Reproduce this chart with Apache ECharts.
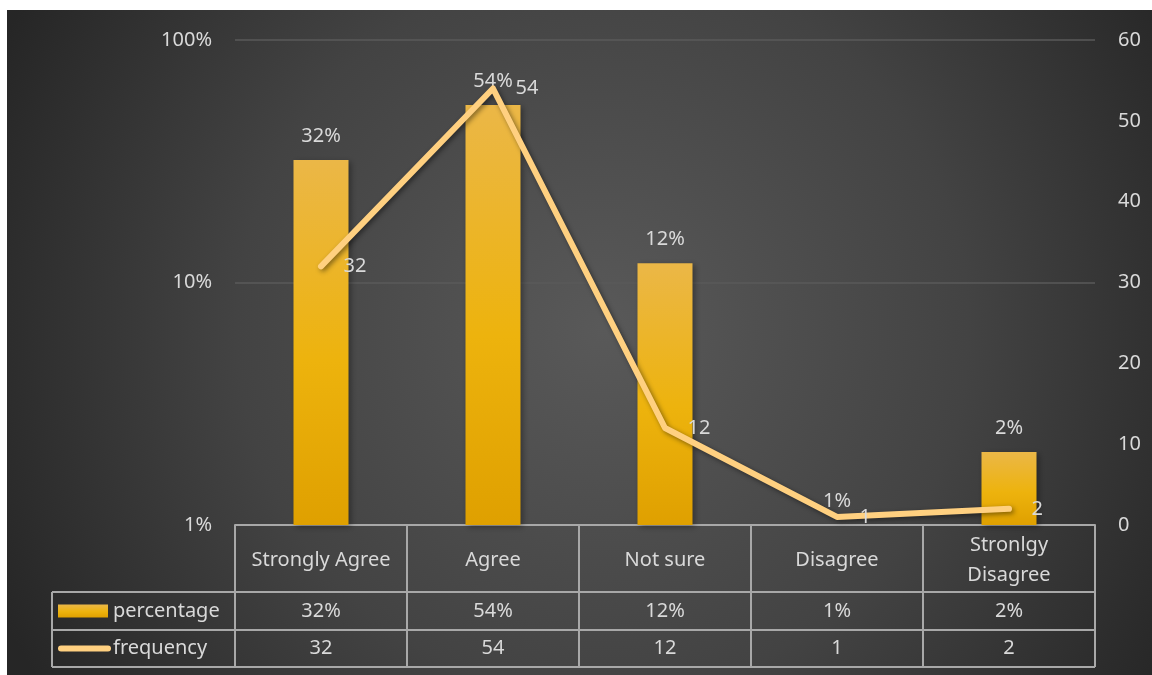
<!DOCTYPE html>
<html>
<head>
<meta charset="utf-8">
<script src="https://cdn.jsdelivr.net/npm/echarts@6/dist/echarts.min.js"></script>
<style>
  html, body { margin: 0; padding: 0; background: #ffffff; }
  #chart { position: absolute; left: 7px; top: 10px; width: 1145px; height: 665px; }
</style>
</head>
<body>
<div id="chart"></div>
<script>
// Survey responses: share (percent, log scale) and frequency (count)
const categories = ['Strongly Agree', 'Agree', 'Not sure', 'Disagree', 'Stronlgy\nDisagree'];
const percentage = [32, 54, 12, 1, 2];
const frequency = [32, 54, 12, 1, 2];
const leftTicks = [1, 10, 100];
const seriesNames = ['percentage', 'frequency'];

const TEXT = '#D9D9D9';
const FONT = 'Noto Sans';
const FS = 20;
const LINE_COLOR = '#FFD080';
const TABLE_LINE = '#A8A8A8';
const barGradient = new echarts.graphic.LinearGradient(0, 0, 0, 1, [
  { offset: 0, color: '#EBB747' },
  { offset: 0.55, color: '#EDB30D' },
  { offset: 1, color: '#DFA000' }
]);

const chart = echarts.init(document.getElementById('chart'));

const option = {
  backgroundColor: {
    type: 'radial', x: 0.52, y: 0.48, r: 1.0,
    colorStops: [
      { offset: 0, color: '#595959' },
      { offset: 0.55, color: '#434343' },
      { offset: 1, color: '#262626' }
    ]
  },
  textStyle: { fontFamily: FONT },
  animation: false,
  grid: { left: 228, top: 30, width: 860, height: 485 },
  xAxis: {
    type: 'category',
    data: categories,
    axisLine: { show: true, lineStyle: { color: TABLE_LINE, width: 2 } },
    axisTick: { show: false },
    axisLabel: {
      color: TEXT, fontSize: FS, fontFamily: FONT,
      margin: 35, verticalAlign: 'middle', lineHeight: 30, interval: 0
    }
  },
  yAxis: [
    {
      type: 'log', logBase: 10, min: 1, max: 100,
      axisLine: { show: false }, axisTick: { show: false },
      axisLabel: {
        color: TEXT, fontSize: FS, fontFamily: FONT, margin: 23,
        formatter: v => (leftTicks.includes(Math.round(v)) ? Math.round(v) + '%' : '')
      },
      splitLine: { show: true, lineStyle: { color: '#5A5A5A', width: 1.5 } }
    },
    {
      type: 'value', min: 0, max: 60, interval: 10,
      axisLine: { show: false }, axisTick: { show: false },
      axisLabel: { color: TEXT, fontSize: FS, fontFamily: FONT, margin: 23 },
      splitLine: { show: false }
    }
  ],
  series: [
    {
      name: seriesNames[0],
      type: 'bar',
      yAxisIndex: 0,
      data: percentage,
      barWidth: 55,
      itemStyle: {
        color: barGradient,
        shadowColor: 'rgba(0,0,0,0.35)', shadowBlur: 6, shadowOffsetX: 2, shadowOffsetY: 2
      },
      label: {
        show: true, position: 'top', distance: 14,
        color: TEXT, fontSize: FS, fontFamily: FONT,
        formatter: p => p.value + '%'
      },
      labelLayout: { hideOverlap: false },
      z: 2
    },
    {
      name: seriesNames[1],
      type: 'line',
      yAxisIndex: 1,
      data: frequency,
      symbol: 'circle',
      symbolSize: 1,
      showSymbol: true,
      itemStyle: { color: 'rgba(0,0,0,0)' },
      lineStyle: {
        color: LINE_COLOR, width: 6, cap: 'round', join: 'round',
        shadowColor: 'rgba(0,0,0,0.45)', shadowBlur: 5, shadowOffsetX: 2, shadowOffsetY: 2
      },
      label: {
        show: true, position: 'right', distance: 22, offset: [0, 4],
        color: TEXT, fontSize: FS, fontFamily: FONT
      },
      labelLayout: { hideOverlap: false },
      z: 3
    }
  ]
};

chart.setOption(option);

// Data table under the plot: rows for each series, columns aligned with categories
function buildTable() {
  const centres = categories.map((c, i) => chart.convertToPixel({ xAxisIndex: 0 }, i));
  const band = centres.length > 1 ? centres[1] - centres[0] : 172;
  const x0 = centres[0] - band / 2;
  const x1 = centres[centres.length - 1] + band / 2;
  const yTop = chart.convertToPixel({ yAxisIndex: 1 }, 0);
  const rowH = [67, 38, 37];
  const y1 = yTop + rowH[0];
  const y2 = y1 + rowH[1];
  const y3 = y2 + rowH[2];
  const leftX = 45;
  const els = [];
  const ls = { stroke: TABLE_LINE, lineWidth: 2 };
  const hline = (xa, xb, y) => els.push({ type: 'line', shape: { x1: xa, y1: y, x2: xb, y2: y }, style: ls, silent: true });
  const vline = (x, ya, yb) => els.push({ type: 'line', shape: { x1: x, y1: ya, x2: x, y2: yb }, style: ls, silent: true });

  hline(leftX, x1, y1);
  hline(leftX, x1, y2);
  hline(leftX, x1, y3);
  vline(leftX, y1, y3);
  for (let i = 0; i <= categories.length; i++) vline(x0 + band * i, yTop, y3);

  const rows = [percentage.map(v => v + '%'), frequency.map(v => String(v))];
  const rowCentres = [(y1 + y2) / 2, (y2 + y3) / 2];
  rows.forEach((vals, r) => {
    vals.forEach((t, i) => {
      els.push({
        type: 'text', silent: true,
        style: {
          text: t, x: centres[i], y: rowCentres[r], align: 'center', verticalAlign: 'middle',
          fill: TEXT, fontSize: FS, fontFamily: FONT
        }
      });
    });
  });

  // legend keys in the left column
  els.push({
    type: 'rect', silent: true,
    shape: { x: leftX + 6, y: rowCentres[0] - 6.5, width: 50, height: 13 },
    style: { fill: barGradient }
  });
  els.push({
    type: 'line', silent: true,
    shape: { x1: leftX + 9, y1: rowCentres[1], x2: leftX + 56, y2: rowCentres[1] },
    style: { stroke: LINE_COLOR, lineWidth: 6, lineCap: 'round' }
  });
  seriesNames.forEach((n, r) => {
    els.push({
      type: 'text', silent: true,
      style: {
        text: n, x: leftX + 61, y: rowCentres[r], align: 'left', verticalAlign: 'middle',
        fill: TEXT, fontSize: FS, fontFamily: FONT
      }
    });
  });

  chart.setOption({ graphic: { elements: els } });
}

buildTable();
</script>
</body>
</html>
